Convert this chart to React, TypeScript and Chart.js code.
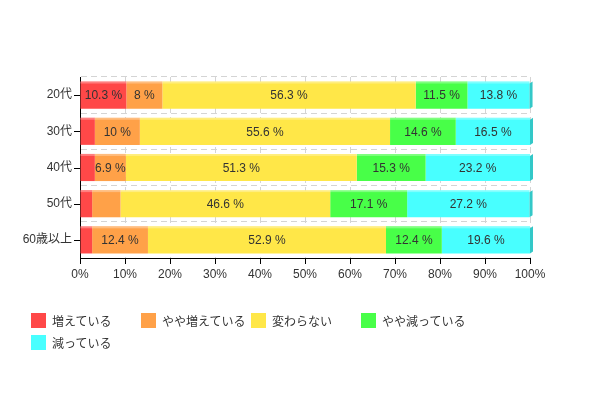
import React, { useEffect, useRef } from "react";
import { Chart, registerables } from "chart.js";

Chart.register(...registerables);

const categories = ["20代", "30代", "40代", "50代", "60歳以上"];
const seriesNames = ["増えている", "やや増えている", "変わらない", "やや減っている", "減っている"];
const seriesColors = ["#ff4848", "#ffa148", "#ffe748", "#48ff48", "#48ffff"];
const increased = [10.3, 3.3, 3.3, 2.7, 2.7];
const slightlyIncreased = [8, 10, 6.9, 6.3, 12.4];
const unchanged = [56.3, 55.6, 51.3, 46.6, 52.9];
const slightlyDecreased = [11.5, 14.6, 15.3, 17.1, 12.4];
const decreased = [13.8, 16.5, 23.2, 27.2, 19.6];
const seriesValues = [increased, slightlyIncreased, unchanged, slightlyDecreased, decreased];
const xTicks = [0, 10, 20, 30, 40, 50, 60, 70, 80, 90, 100];

const FONT = '"Liberation Sans", Arial, "Noto Sans CJK JP", sans-serif';
const LABEL_MIN = 6.5;

const decoPlugin = {
  id: "deco",
  afterDatasetsDraw(chart: any) {
    const ctx = chart.ctx;
    ctx.save();
    chart.data.datasets.forEach((ds: any, di: number) => {
      const meta = chart.getDatasetMeta(di);
      meta.data.forEach((el: any, i: number) => {
        const left = Math.min(el.x, el.base);
        const right = Math.max(el.x, el.base);
        const top = el.y - el.height / 2;
        const bottom = el.y + el.height / 2;
        // light top edge
        ctx.fillStyle = "rgba(255,255,255,0.3)";
        ctx.fillRect(left, top, right - left, 2);
        if (di === chart.data.datasets.length - 1) {
          ctx.fillStyle = "#33c8c8";
          ctx.beginPath();
          ctx.moveTo(right, top + 2);
          ctx.lineTo(right + 3, top);
          ctx.lineTo(right + 3, bottom - 2);
          ctx.lineTo(right, bottom);
          ctx.closePath();
          ctx.fill();
        }
        const v = ds.data[i];
        if (v >= LABEL_MIN) {
          ctx.fillStyle = "#333";
          ctx.font = "12px " + FONT;
          ctx.textAlign = "center";
          ctx.textBaseline = "middle";
          ctx.fillText(v + " %", (left + right) / 2, el.y + 1);
        }
      });
    });
    // y-axis tick marks at category centers
    const yScale = chart.scales.y;
    const ca = chart.chartArea;
    ctx.strokeStyle = "#000";
    ctx.lineWidth = 1;
    categories.forEach((_c, i) => {
      const y = Math.round(yScale.getPixelForValue(i)) + 0.5;
      ctx.beginPath();
      ctx.moveTo(ca.left - 6, y);
      ctx.lineTo(ca.left, y);
      ctx.stroke();
    });
    ctx.restore();
  },
};

export default function App() {
  const ref = useRef<HTMLCanvasElement | null>(null);
  useEffect(() => {
    if (!ref.current) return;
    const chart = new Chart(ref.current, {
      type: "bar",
      data: {
        labels: categories,
        datasets: seriesNames.map((name, i) => ({
          label: name,
          data: seriesValues[i],
          backgroundColor: seriesColors[i],
          borderWidth: 0,
          barPercentage: 0.75,
          categoryPercentage: 1,
        })),
      },
      options: {
        indexAxis: "y",
        responsive: false,
        animation: false,
        layout: { padding: { top: 77, right: 68, bottom: 118, left: 0 } },
        plugins: { legend: { display: false }, tooltip: { enabled: false } },
        scales: {
          x: {
            type: "linear",
            stacked: true,
            min: 0,
            max: 100,
            afterBuildTicks: (s: any) => {
              s.ticks = xTicks.map((v) => ({ value: v }));
            },
            afterFit: (s: any) => {
              s.height = 22;
            },
            ticks: {
              callback: (v: any) => v + "%",
              color: "#333",
              font: { size: 12, family: FONT },
              padding: 3,
              maxRotation: 0,
            },
            grid: {
              color: "#d4d4d4",
              tickColor: "#000",
              tickLength: 6,
              tickBorderDash: [],
            },
            border: { color: "#000", width: 1, dash: [6, 4] },
          },
          y: {
            stacked: true,
            afterFit: (s: any) => {
              s.width = 80;
            },
            ticks: {
              color: "#333",
              font: { size: 12, family: FONT },
              padding: 8,
            },
            grid: {
              color: "#d4d4d4",
              drawTicks: false,
              offset: true,
            },
            border: { color: "#000", width: 1, dash: [6, 4] },
          },
        },
      },
      plugins: [decoPlugin],
    } as any);
    return () => chart.destroy();
  }, []);

  return (
    <div style={{ position: "absolute", left: 0, top: 0, width: 598, height: 398, background: "#fff" }}>
      <canvas ref={ref} width={598} height={398} style={{ display: "block" }} />
      {seriesNames.map((name, i) => (
        <div
          key={name}
          style={{
            position: "absolute",
            left: 31 + 110 * (i % 4),
            top: 312 + 22 * Math.floor(i / 4),
            height: 16,
            display: "flex",
            alignItems: "center",
            fontFamily: FONT,
            fontSize: 12,
            color: "#333",
            whiteSpace: "nowrap",
          }}
        >
          <span style={{ display: "inline-block", width: 15, height: 15, background: seriesColors[i], marginRight: 6 }} />
          <span>{name}</span>
        </div>
      ))}
    </div>
  );
}
